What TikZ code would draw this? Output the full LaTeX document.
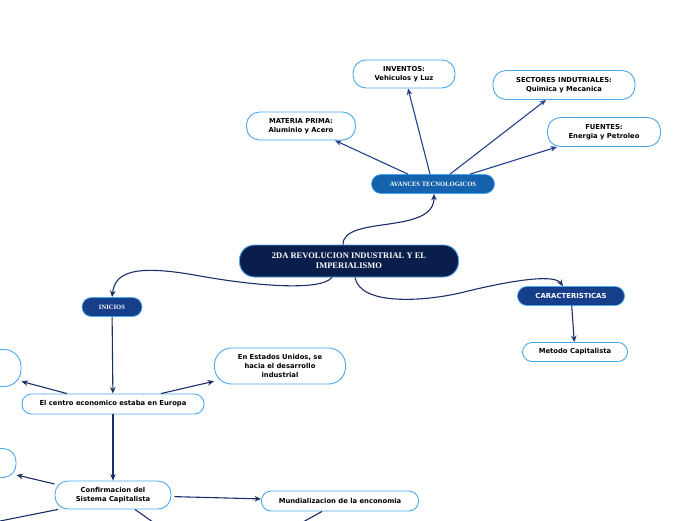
\documentclass[tikz,border=0pt]{standalone}
\usepackage{fontspec}
\setmainfont{Liberation Serif}
\setsansfont{DejaVu Sans}
\usetikzlibrary{arrows.meta}

\definecolor{edgeblue}{HTML}{4AA8EE}
\definecolor{rootnavy}{HTML}{0A1E4B}
\definecolor{avblue}{HTML}{1562AE}
\definecolor{midblue}{HTML}{173E8A}
\definecolor{linknavy}{HTML}{1B2F66}
\definecolor{linkblue}{HTML}{23418C}

\begin{document}
\begin{tikzpicture}[x=1pt, y=-1pt,
    leaf/.style={draw=edgeblue, line width=0.9pt, fill=white, rounded corners=13pt,
        inner sep=0pt, align=center, font=\sffamily\bfseries\fontsize{6.8}{9}\selectfont},
    root/.style={draw=edgeblue, line width=0.9pt, fill=rootnavy, text=white, rounded corners=15pt,
        inner sep=0pt, align=center, font=\rmfamily\bfseries\fontsize{8.5}{10}\selectfont},
    branch/.style={draw=edgeblue, line width=0.7pt, text=white, rounded corners=9.5pt,
        inner sep=0pt, align=center, font=\rmfamily\bfseries\fontsize{6.6}{8}\selectfont},
    link/.style={draw=linknavy, line width=1.1pt, -{Stealth[length=6.5pt, width=5.5pt]}},
    techlink/.style={link, draw=linkblue},
    loose/.style={draw=linknavy, line width=1.1pt}]
    \useasboundingbox (0,0) rectangle (696,520);

    % avances tecnologicos
    \node[leaf, minimum width=102, minimum height=28] (inventos) at (404,74) {INVENTOS:\\Vehiculos y Luz};
    \node[leaf, minimum width=142, minimum height=29] (sectores) at (564,85) {SECTORES INDUTRIALES:\\Quimica y Mecanica};
    \node[leaf, minimum width=109, minimum height=28] (materia) at (301,126) {MATERIA PRIMA:\\Aluminio y Acero};
    \node[leaf, minimum width=113, minimum height=29] (fuentes) at (604,132) {FUENTES:\\Energia y Petroleo};
    \node[branch, fill=avblue, minimum width=123, minimum height=19] (avances) at (433,184) {AVANCES TECNOLOGICOS};

    % centro
    \node[root, minimum width=219, minimum height=32] (revolucion) at (349,261) {2DA REVOLUCION INDUSTRIAL Y EL\\IMPERIALISMO};

    % caracteristicas
    \node[branch, fill=midblue, minimum width=107, minimum height=19,
        font=\sffamily\bfseries\fontsize{6.9}{8}\selectfont] (caract) at (571,296) {CARACTERISTICAS};
    \node[leaf, rounded corners=9.5pt, minimum width=105, minimum height=19] (metodo) at (575,352) {Metodo Capitalista};

    % inicios
    \node[branch, fill=midblue, minimum width=60, minimum height=19] (inicios) at (112,307) {INICIOS};
    \node[leaf, rounded corners=17pt, minimum width=131, minimum height=36,
        font=\sffamily\bfseries\fontsize{6.8}{8.7}\selectfont] (eeuu) at (280,366) {En Estados Unidos, se\\hacia el desarrollo\\industrial};
    \node[leaf, rounded corners=17pt, minimum width=100, minimum height=37] (izqa) at (-29,368) {};
    \node[leaf, rounded corners=9.5pt, minimum width=182, minimum height=20] (centro) at (113,404) {El centro economico estaba en Europa};
    \node[leaf, rounded corners=13pt, minimum width=100, minimum height=29] (izqb) at (-34,463) {};
    \node[leaf, minimum width=116, minimum height=28] (confirm) at (113,495) {Confirmacion del\\Sistema Capitalista};
    \node[leaf, rounded corners=9.5pt, minimum width=157, minimum height=20] (mundial) at (340,501) {Mundializacion de la enconomia};

    \coordinate (fuera1) at (-10,523);
    \coordinate (fuera2) at (157,525);
    \coordinate (fuera3) at (303,522);

    % conexiones
    \draw[techlink] ([xshift=-25pt]avances.north) -- ([xshift=34pt]materia.south);
    \draw[techlink] ([xshift=-3pt]avances.north) -- ([xshift=4pt]inventos.south);
    \draw[techlink] ([xshift=17pt]avances.north) -- ([xshift=-18pt]sectores.south);
    \draw[techlink] ([xshift=37pt]avances.north) -- ([xshift=-47pt]fuentes.south);

    \draw[link] ([xshift=-6pt]revolucion.north) .. controls (343,215) and (434,235) .. ([xshift=1pt]avances.south);
    \draw[link] ([xshift=-17pt]revolucion.south) .. controls (320,292) and (250,285) .. (200,276)
        .. controls (130,263) and (115,274) .. (inicios.north);
    \draw[link] ([xshift=6pt]revolucion.south) .. controls (360,305) and (420,302) .. (460,293)
        .. controls (520,278) and (555,275) .. ([xshift=-8pt]caract.north);

    \draw[link] (caract) -- (metodo);
    \draw[link] (inicios) -- (centro);
    \draw[link] ([xshift=-46pt]centro.north) -- (izqa);
    \draw[link] ([xshift=48pt]centro.north) -- (eeuu);
    \draw[link] (centro) -- (confirm);
    \draw[link] ([yshift=11pt]confirm.west) -- (izqb);
    \draw[link, shorten <=3pt] (confirm) -- (mundial);

    \draw[loose] ([xshift=-55pt]confirm.south) -- (fuera1);
    \draw[loose] ([xshift=22pt]confirm.south) -- (fuera2);
    \draw[loose] ([xshift=-18pt]mundial.south) -- (fuera3);
\end{tikzpicture}
\end{document}
